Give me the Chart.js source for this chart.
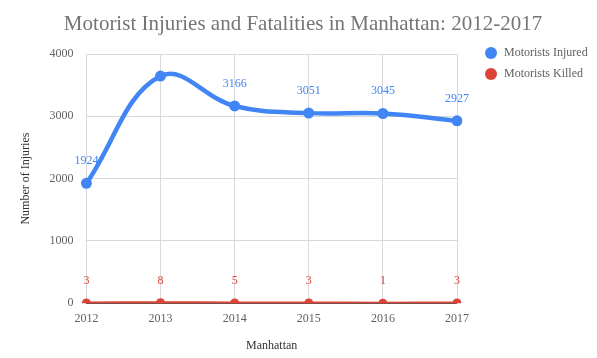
<!DOCTYPE html>
<html><head><meta charset="utf-8">
<script src="https://cdn.jsdelivr.net/npm/chart.js@4/dist/chart.umd.min.js"></script>
<style>html,body{margin:0;padding:0;background:#fff}#wrap{width:597px;height:358px}</style>
</head><body><div id="wrap"><canvas id="c" width="597" height="358"></canvas></div>
<script>
const years = ["2012","2013","2014","2015","2016","2017"];
const injured = [1924, 3645, 3166, 3051, 3045, 2927];
const killed = [3, 8, 5, 3, 1, 3];
const injuredLabels = ["1924", "", "3166", "3051", "3045", "2927"];
const killedLabels = ["3", "8", "5", "3", "1", "3"];
const yTicks = [0, 1000, 2000, 3000, 4000];
const seriesNames = ["Motorists Injured", "Motorists Killed"];
const chartTitle = "Motorist Injuries and Fatalities in Manhattan: 2012-2017";

const SERIF = "'Liberation Serif', 'DejaVu Serif', serif";
const BLUE = "#4285f4", RED = "#db4437";

const labelPlugin = {
  id: 'vlabels',
  afterDatasetsDraw(chart) {
    const ctx = chart.ctx;
    const sets = [[0, injuredLabels, BLUE], [1, killedLabels, RED]];
    ctx.save();
    ctx.font = "12px " + SERIF;
    ctx.textAlign = 'center';
    ctx.textBaseline = 'alphabetic';
    for (const [i, labels, col] of sets) {
      const meta = chart.getDatasetMeta(i);
      ctx.fillStyle = col;
      meta.data.forEach((pt, j) => {
        if (!labels[j]) return;
        ctx.fillText(labels[j], pt.x, pt.y - 19);
      });
    }
    ctx.restore();
  }
};

const legendTitlePlugin = {
  id: 'customLegend',
  afterDraw(chart) {
    const ctx = chart.ctx;
    ctx.save();
    ctx.font = "21px " + SERIF;
    ctx.textAlign = 'center';
    ctx.textBaseline = 'alphabetic';
    ctx.fillStyle = '#757575';
    ctx.fillText(chartTitle, 303, 30);
    ctx.font = "12px " + SERIF;
    ctx.textBaseline = 'middle';
    ctx.textAlign = 'left';
    chart.data.datasets.forEach((ds, i) => {
      const y = 53 + i * 21;
      ctx.beginPath();
      ctx.arc(491, y, 6, 0, Math.PI * 2);
      ctx.fillStyle = ds.borderColor;
      ctx.fill();
      ctx.fillStyle = '#616161';
      ctx.fillText(seriesNames[i], 504, y);
    });
    ctx.restore();
  }
};

new Chart(document.getElementById('c'), {
  type: 'line',
  data: {
    labels: years,
    datasets: [
      { label: seriesNames[0], data: injured, borderColor: BLUE, backgroundColor: BLUE,
        borderWidth: 4.5, pointRadius: 5.5, pointBorderWidth: 0, tension: 0.4 },
      { label: seriesNames[1], data: killed, borderColor: RED, backgroundColor: RED,
        borderWidth: 3, pointRadius: 4.5, pointBorderWidth: 0, tension: 0.4 }
    ]
  },
  options: {
    responsive: false,
    animation: false,
    layout: { padding: { left: 19, right: 140, top: 54, bottom: 1 } },
    plugins: {
      title: { display: false },
      legend: { display: false },
      tooltip: { enabled: false }
    },
    scales: {
      x: {
        offset: false,
        grid: { color: '#d9d9d9', drawTicks: false },
        border: { display: false },
        ticks: { color: '#616161', font: { family: SERIF, size: 12 }, padding: 8, maxRotation: 0 },
        title: { display: true, text: 'Manhattan', color: '#333', font: { family: SERIF, size: 12 }, padding: { top: 5 } }
      },
      y: {
        min: 0, max: 4000,
        afterBuildTicks(axis) { axis.ticks = yTicks.map(v => ({ value: v })); },
        grid: { color: ctx => ctx.tick && ctx.tick.value === 0 ? '#555' : '#d9d9d9', drawTicks: false },
        border: { display: false },
        ticks: { color: '#616161', font: { family: SERIF, size: 12 }, padding: 13, callback: v => String(v) },
        title: { display: true, text: 'Number of Injuries', color: '#333', font: { family: SERIF, size: 12 }, padding: { top: 0, bottom: 3 } }
      }
    }
  },
  plugins: [labelPlugin, legendTitlePlugin]
});
</script></body></html>
